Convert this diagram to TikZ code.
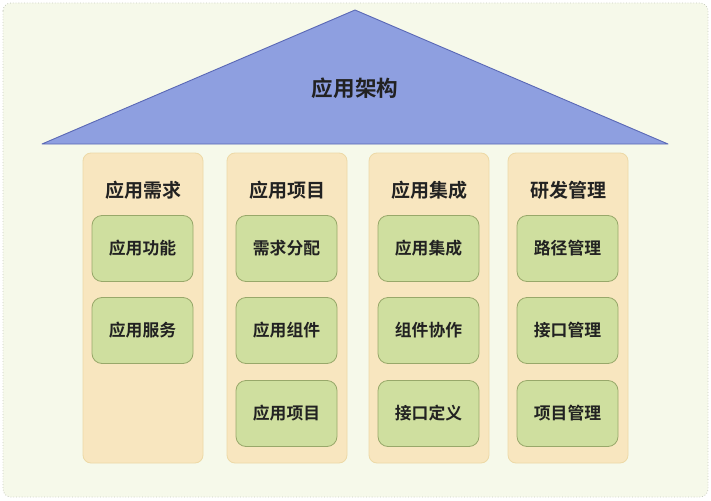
\documentclass[tikz,border=0pt]{standalone}
\usepackage{fontspec}
\setmainfont{Noto Sans CJK SC}[BoldFont={* Bold}]
\newfontfamily\cjkb{Noto Sans CJK SC Bold}
\definecolor{bgc}{HTML}{F6F9EA}
\definecolor{bgb}{HTML}{C8CCC0}
\definecolor{roof}{HTML}{8E9FE0}
\definecolor{roofb}{HTML}{5A68B5}
\definecolor{colf}{HTML}{F8E6BF}
\definecolor{colb}{HTML}{EDD9A6}
\definecolor{boxf}{HTML}{CFDF9F}
\definecolor{boxb}{HTML}{98A86A}
\definecolor{txt}{HTML}{222222}
\begin{document}
\begin{tikzpicture}[x=1pt,y=-1pt,
  pillar/.style={draw=colb,fill=colf,line width=0.8pt,rounded corners=8pt},
  item/.style={draw=boxb,fill=boxf,line width=0.8pt,rounded corners=10pt,minimum width=101pt,minimum height=66pt,inner sep=0pt,font=\cjkb\fontsize{16.8}{20}\selectfont,text=txt},
  ptitle/.style={font=\cjkb\fontsize{19}{22}\selectfont,text=txt,inner sep=0pt}]
\useasboundingbox (0,0) rectangle (711,500);
\draw[bgb,fill=bgc,dotted,line width=0.8pt,rounded corners=8pt] (3,3) rectangle (708,497);
\draw[roofb,fill=roof,line width=0.9pt,line join=round] (42,144) -- (355,10) -- (668,144) -- cycle;
\node[font=\cjkb\fontsize{21.6}{26}\selectfont,text=txt,inner sep=0pt] (roof) at (355,88) {应用架构};
% pillars
\draw[pillar] (83,153) rectangle (203,463);
\draw[pillar] (227,153) rectangle (347,463);
\draw[pillar] (369,153) rectangle (489,463);
\draw[pillar] (508,153) rectangle (628,463);
\node[ptitle] (t1) at (143,190) {应用需求};
\node[ptitle] (t2) at (287,190) {应用项目};
\node[ptitle] (t3) at (429,190) {应用集成};
\node[ptitle] (t4) at (568,190) {研发管理};
\node[item] (a1) at (142.5,248.5) {应用功能};
\node[item] (a2) at (142.5,330.5) {应用服务};
\node[item] (b1) at (286.5,248.5) {需求分配};
\node[item] (b2) at (286.5,330.5) {应用组件};
\node[item] (b3) at (286.5,413.5) {应用项目};
\node[item] (c1) at (428.5,248.5) {应用集成};
\node[item] (c2) at (428.5,330.5) {组件协作};
\node[item] (c3) at (428.5,413.5) {接口定义};
\node[item] (d1) at (567.5,248.5) {路径管理};
\node[item] (d2) at (567.5,330.5) {接口管理};
\node[item] (d3) at (567.5,413.5) {项目管理};
\end{tikzpicture}
\end{document}
